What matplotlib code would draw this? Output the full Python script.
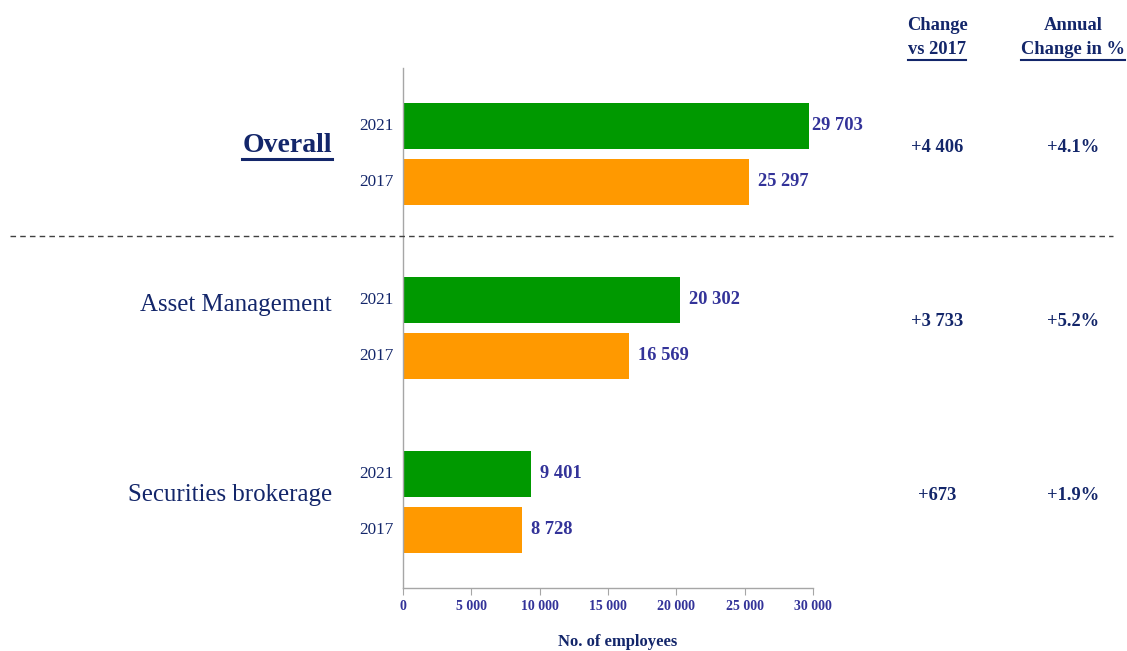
import matplotlib
matplotlib.use("Agg")
import matplotlib.pyplot as plt
from matplotlib.transforms import blended_transform_factory
from matplotlib.lines import Line2D

categories = ["Overall", "Asset Management", "Securities brokerage"]
years = ["2021", "2017"]
values_2021 = [29703, 20302, 9401]
values_2017 = [25297, 16569, 8728]
change_vs_2017 = ["+4 406", "+3 733", "+673"]
annual_change = ["+4.1%", "+5.2%", "+1.9%"]
xticks = [0, 5000, 10000, 15000, 20000, 25000, 30000]

NAVY = "#13266A"
INDIGO = "#333399"
GREEN = "#009900"
ORANGE = "#FF9900"
SERIF = ["Liberation Serif", "DejaVu Serif"]

plt.rcParams["font.family"] = SERIF

fig = plt.figure(figsize=(11.27, 6.51), dpi=100)
W, H = 1127, 651
ax = fig.add_axes([403 / W, 1 - 588 / H, 410 / W, 520 / H])

off = 28 / 174
bh = 46 / 174
ys = list(range(len(categories)))
ax.barh([y - off for y in ys], values_2021, height=bh, color=GREEN)
ax.barh([y + off for y in ys], values_2017, height=bh, color=ORANGE)

XMAX = 30000
gap = XMAX * 9 / 410
fmt = lambda v: f"{v:,}".replace(",", " ")
for y, v in zip(ys, values_2021):
    ax.text(min(v + gap, XMAX * 0.998), y - off, fmt(v), va="center", ha="left",
            fontsize=13.3, fontweight="bold", color=INDIGO)
for y, v in zip(ys, values_2017):
    ax.text(min(v + gap, XMAX * 0.998), y + off, fmt(v), va="center", ha="left",
            fontsize=13.3, fontweight="bold", color=INDIGO)

ax.set_xlim(0, XMAX)
ax.set_ylim(2 + 86 / 174, -86 / 174)
ax.set_xticks(xticks)
ax.set_xticklabels([fmt(t) for t in xticks], fontsize=10, fontweight="bold", color=INDIGO)
ax.set_yticks([])
for s in ["top", "right"]:
    ax.spines[s].set_visible(False)
for s in ["left", "bottom"]:
    ax.spines[s].set_color("#A6A6A6")
    ax.spines[s].set_linewidth(1.0)
ax.tick_params(axis="x", length=5, color="#A6A6A6", pad=4)
fig.text(618 / W, 1 - 642 / H, "No. of employees", ha="center", va="center",
         fontsize=12, fontweight="bold", color=NAVY)

# year labels
ytr = blended_transform_factory(ax.transAxes, ax.transData)
for y in ys:
    ax.text(-0.024, y - off, years[0], transform=ytr, ha="right", va="center", fontsize=12.3, color=NAVY)
    ax.text(-0.024, y + off, years[1], transform=ytr, ha="right", va="center", fontsize=12.3, color=NAVY)

tr = blended_transform_factory(fig.transFigure, ax.transData)
cat_offsets = [-0.05, -0.13, -0.04]
cat_texts = []
for i, c in enumerate(categories):
    if i == 0:
        t = fig.text(332 / W, i + cat_offsets[i], c, transform=tr, ha="right", va="center",
                     fontsize=20, fontweight="bold", color=NAVY)
    else:
        t = fig.text(332 / W, i + cat_offsets[i], c, transform=tr, ha="right", va="center",
                     fontsize=17.9, color=NAVY)
    cat_texts.append(t)
    fig.text(937 / W, i - 0.04, change_vs_2017[i], transform=tr, ha="center", va="center",
             fontsize=13.3, fontweight="bold", color=NAVY)
    fig.text(1073 / W, i - 0.04, annual_change[i], transform=tr, ha="center", va="center",
             fontsize=13.3, fontweight="bold", color=NAVY)

h1 = fig.text(937 / W, 1 - 26 / H, "Change", ha="center", va="center", fontsize=13.3, fontweight="bold", color=NAVY)
h2 = fig.text(937 / W, 1 - 50 / H, "vs 2017", ha="center", va="center", fontsize=13.3, fontweight="bold", color=NAVY)
h3 = fig.text(1073 / W, 1 - 26 / H, "Annual", ha="center", va="center", fontsize=13.3, fontweight="bold", color=NAVY)
h4 = fig.text(1073 / W, 1 - 50 / H, "Change in %", ha="center", va="center", fontsize=13.3, fontweight="bold", color=NAVY)

# dashed separator
fig.add_artist(Line2D([10 / W, 1113 / W], [1 - 236 / H] * 2, transform=fig.transFigure,
                      color="#404040", linestyle=(0, (4, 3)), linewidth=1.0))

# underlines
fig.canvas.draw()
r = fig.canvas.get_renderer()
for t, lw in [(cat_texts[0], 2.2), (h2, 1.5), (h4, 1.5)]:
    bb = t.get_window_extent(renderer=r)
    yline = bb.y0 - 1
    fig.add_artist(Line2D([bb.x0 / W, bb.x1 / W], [yline / H] * 2, transform=fig.transFigure,
                          color=NAVY, linewidth=lw))

fig.savefig("out.png", dpi=100)
